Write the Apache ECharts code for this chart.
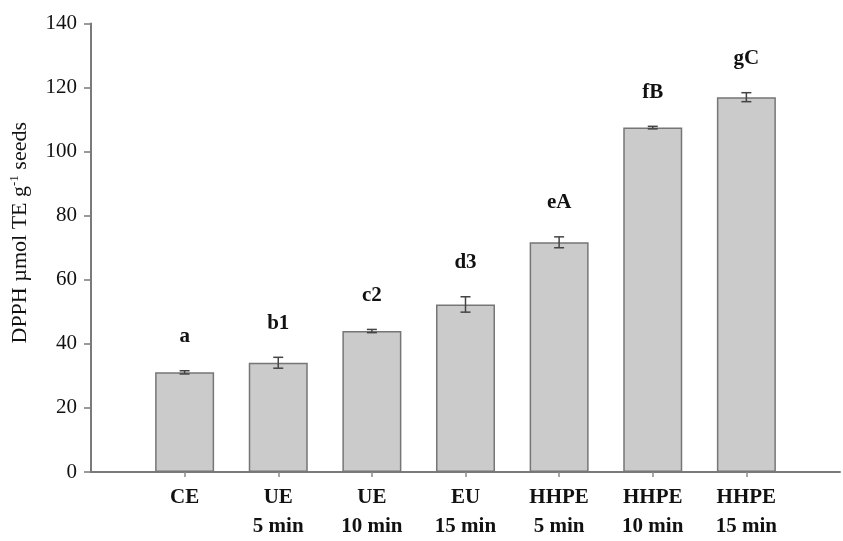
<!DOCTYPE html>
<html>
<head>
<meta charset="utf-8">
<script src="https://cdn.jsdelivr.net/npm/echarts@6/dist/echarts.min.js"></script>
<style>html,body{margin:0;padding:0;background:#fff}#c{width:843px;height:541px}</style>
</head>
<body>
<div id="c"></div>
<script>
const categories = ["CE", "UE\n5 min", "UE\n10 min", "EU\n15 min", "HHPE\n5 min", "HHPE\n10 min", "HHPE\n15 min"];
const values = [31.1, 34.1, 44.0, 52.3, 71.7, 107.5, 117.0];
const errors = [0.5, 1.7, 0.5, 2.4, 1.7, 0.4, 1.4];
const letters = ["a", "b1", "c2", "d3", "eA", "fB", "gC"];
const yTicks = [0, 20, 40, 60, 80, 100, 120, 140];

const FONT = "Liberation Serif";
const axisCats = [""].concat(categories, [""]);
const barData = [null].concat(values, [null]);
const errData = values.map((v, i) => [i + 1, v, errors[i]]);

const chart = echarts.init(document.getElementById('c'));
chart.setOption({
  backgroundColor: '#fff',
  animation: false,
  grid: { left: 90, right: 1, top: 23.5, bottom: 69 },
  xAxis: {
    type: 'category',
    data: axisCats,
    boundaryGap: false,
    axisLine: { lineStyle: { color: '#7a7a7a', width: 2 } },
    axisTick: { show: true, length: 5, interval: (i) => i > 0 && i < axisCats.length - 1, lineStyle: { color: '#8a8a8a', width: 1.5 } },
    axisLabel: { interval: 0, margin: 11, fontFamily: FONT, fontWeight: 'bold', fontSize: 21, color: '#111', lineHeight: 29 }
  },
  yAxis: {
    type: 'value',
    min: yTicks[0], max: yTicks[yTicks.length - 1], interval: yTicks[1] - yTicks[0],
    splitLine: { show: false },
    axisLine: { show: true, lineStyle: { color: '#7a7a7a', width: 2 } },
    axisTick: { show: true, length: 7, lineStyle: { color: '#7a7a7a', width: 1.5 } },
    axisLabel: { margin: 14, fontFamily: FONT, fontSize: 21, color: '#111' },
    name: 'DPPH µmol TE g{sup|-1} seeds',
    nameLocation: 'middle',
    nameGap: 58,
    nameTextStyle: {
      fontFamily: FONT, fontSize: 22, color: '#111', padding: [0, 0, 0, 30],
      rich: { sup: { fontFamily: FONT, fontSize: 13, color: '#111', verticalAlign: 'top', padding: [0, 0, 12, 0] } }
    }
  },
  series: [
    {
      type: 'bar',
      data: barData,
      barWidth: 59,
      itemStyle: { color: '#cbcbcb', borderColor: '#767676', borderWidth: 1.5 }
    },
    {
      type: 'custom',
      dimensions: ['x', 'y', 'e'],
      data: errData,
      encode: { x: 0, y: 1 },
      z: 5,
      renderItem: function (params, api) {
        const x = api.value(0), v = api.value(1), e = api.value(2);
        const top = api.coord([x, v + e]);
        const bot = api.coord([x, v - e]);
        const cw = 5;
        const st = { stroke: '#444', lineWidth: 1.5 };
        return {
          type: 'group',
          children: [
            { type: 'line', shape: { x1: top[0], y1: top[1], x2: bot[0], y2: bot[1] }, style: st },
            { type: 'line', shape: { x1: top[0] - cw, y1: top[1], x2: top[0] + cw, y2: top[1] }, style: st },
            { type: 'line', shape: { x1: bot[0] - cw, y1: bot[1], x2: bot[0] + cw, y2: bot[1] }, style: st },
            { type: 'text', style: { text: letters[params.dataIndex], x: top[0], y: top[1] - 34, align: 'center', verticalAlign: 'middle', fontFamily: FONT, fontWeight: 'bold', fontSize: 21, fill: '#111' } }
          ]
        };
      }
    }
  ]
});
</script>
</body>
</html>
